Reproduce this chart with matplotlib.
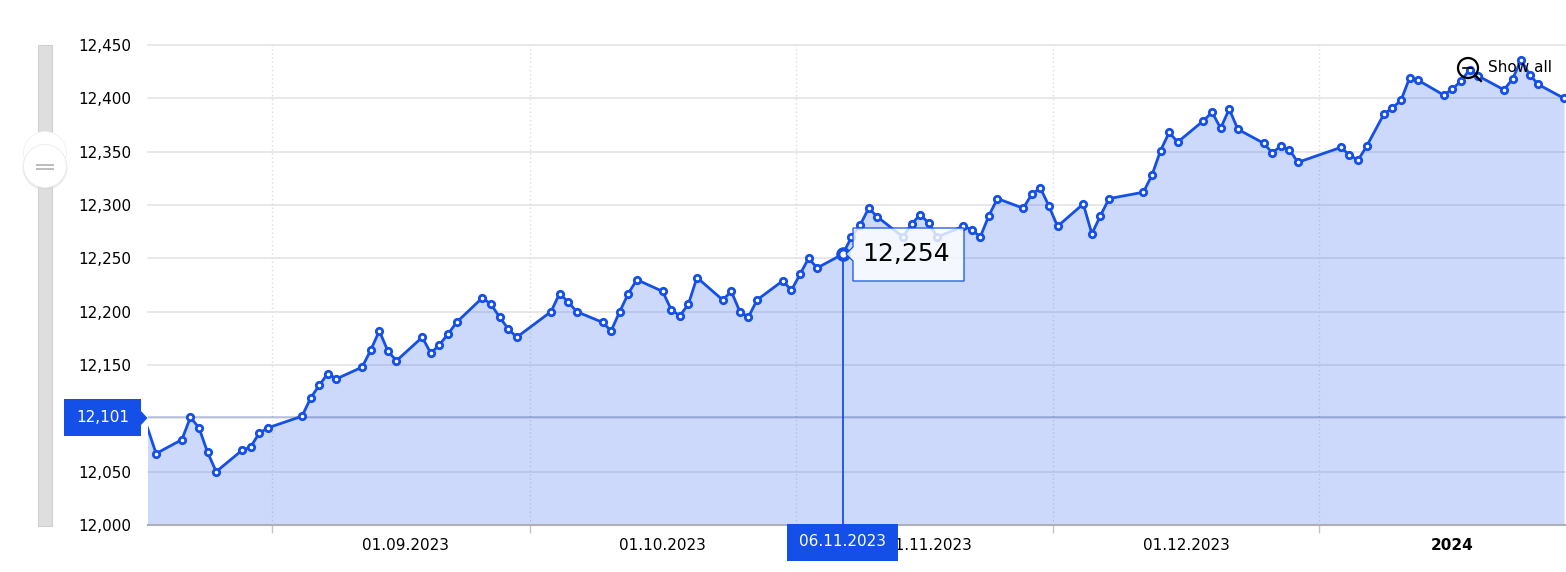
"""Index chart with crosshair, tooltip and range slider."""

from __future__ import annotations

import matplotlib

matplotlib.use("Agg")
import matplotlib.pyplot as plt
import pandas as pd
from matplotlib.patches import Circle, Polygon, Rectangle

BLUE = "#1450e8"

DATES = [
    "2023-08-17", "2023-08-18", "2023-08-21", "2023-08-22", "2023-08-23", "2023-08-24", "2023-08-25",
    "2023-08-28", "2023-08-29", "2023-08-30", "2023-08-31", "2023-09-04", "2023-09-05", "2023-09-06",
    "2023-09-07", "2023-09-08", "2023-09-11", "2023-09-12", "2023-09-13", "2023-09-14", "2023-09-15",
    "2023-09-18", "2023-09-19", "2023-09-20", "2023-09-21", "2023-09-22", "2023-09-25", "2023-09-26",
    "2023-09-27", "2023-09-28", "2023-09-29", "2023-10-03", "2023-10-04", "2023-10-05", "2023-10-06",
    "2023-10-09", "2023-10-10", "2023-10-11", "2023-10-12", "2023-10-13", "2023-10-16", "2023-10-17",
    "2023-10-18", "2023-10-19", "2023-10-20", "2023-10-23", "2023-10-24", "2023-10-25", "2023-10-26",
    "2023-10-27", "2023-10-30", "2023-10-31", "2023-11-01", "2023-11-02", "2023-11-03", "2023-11-06",
    "2023-11-07", "2023-11-08", "2023-11-09", "2023-11-10", "2023-11-13", "2023-11-14", "2023-11-15",
    "2023-11-16", "2023-11-17", "2023-11-20", "2023-11-21", "2023-11-22", "2023-11-23", "2023-11-24",
    "2023-11-27", "2023-11-28", "2023-11-29", "2023-11-30", "2023-12-01", "2023-12-04", "2023-12-05",
    "2023-12-06", "2023-12-07", "2023-12-11", "2023-12-12", "2023-12-13", "2023-12-14", "2023-12-15",
    "2023-12-18", "2023-12-19", "2023-12-20", "2023-12-21", "2023-12-22", "2023-12-25", "2023-12-26",
    "2023-12-27", "2023-12-28", "2023-12-29", "2024-01-03", "2024-01-04", "2024-01-05", "2024-01-06",
    "2024-01-08", "2024-01-09", "2024-01-10", "2024-01-11", "2024-01-12", "2024-01-15", "2024-01-16",
    "2024-01-17", "2024-01-18", "2024-01-19", "2024-01-22", "2024-01-23", "2024-01-24", "2024-01-25",
    "2024-01-26", "2024-01-29",
]
VALUES = [
    12091, 12067, 12080, 12101, 12091, 12068, 12050,
    12070, 12073, 12086, 12091, 12102, 12119, 12131,
    12142, 12137, 12148, 12164, 12182, 12163, 12154,
    12176, 12161, 12169, 12179, 12190, 12213, 12207,
    12195, 12184, 12176, 12200, 12217, 12209, 12200,
    12190, 12182, 12200, 12217, 12230, 12219, 12202,
    12196, 12207, 12232, 12211, 12219, 12200, 12195,
    12211, 12229, 12220, 12235, 12250, 12241, 12254,
    12270, 12281, 12297, 12289, 12270, 12282, 12291,
    12283, 12270, 12280, 12277, 12270, 12290, 12306,
    12297, 12310, 12316, 12299, 12280, 12301, 12273,
    12290, 12306, 12312, 12328, 12351, 12368, 12359,
    12379, 12387, 12372, 12390, 12371, 12358, 12349,
    12355, 12352, 12340, 12354, 12347, 12342, 12355,
    12385, 12391, 12398, 12419, 12417, 12403, 12409,
    12416, 12427, 12421, 12408, 12418, 12436, 12422,
    12413, 12400,
]
Y_TICKS = [12000, 12050, 12100, 12150, 12200, 12250, 12300, 12350, 12400, 12450]
MONTH_STARTS = ["2023-09-01", "2023-10-01", "2023-11-01", "2023-12-01", "2024-01-01"]
MONTH_LABELS = ["01.09.2023", "01.10.2023", "01.11.2023", "01.12.2023", "2024"]
SELECTED_DATE = "2023-11-06"
SELECTED_LABEL = "06.11.2023"
CROSSHAIR_VALUE = 12101

W, H = 1566, 572
LEFT, RIGHT, TOP, BOTTOM = 148, 1566, 45, 525
PX_PER_DAY = 8.585

origin = pd.Timestamp(MONTH_STARTS[0])


def day_number(date: str | pd.Timestamp) -> float:
    return (pd.Timestamp(date) - origin).days


x_points = [day_number(d) + 0.5 for d in DATES]
x_ticks = [day_number(d) for d in MONTH_STARTS]
selected = DATES.index(SELECTED_DATE)

fig = plt.figure(figsize=(W / 100, H / 100), dpi=100, facecolor="white")
ax = fig.add_axes([LEFT / W, 1 - BOTTOM / H, (RIGHT - LEFT) / W, (BOTTOM - TOP) / H])
ax.set_xlim((LEFT - 272) / PX_PER_DAY, (RIGHT - 272) / PX_PER_DAY)
ax.set_ylim(Y_TICKS[0], Y_TICKS[-1])

for side in ("top", "left", "right"):
    ax.spines[side].set_visible(False)
ax.spines["bottom"].set_color("#b0b0b0")
ax.spines["bottom"].set_linewidth(1.5)

# the 12,100 label sits behind the crosshair flag in the original, so it stays blank
y_labels = ["" if v == 12100 else f"{v:,}" for v in Y_TICKS]
ax.set_yticks(Y_TICKS, y_labels, fontsize=11, color="black")
ax.tick_params(axis="y", length=0, pad=12)
ax.set_xticks(x_ticks, [""] * len(x_ticks))
ax.tick_params(axis="x", length=6, width=1, color="#c4c4c4")
ax.set_axisbelow(True)
ax.grid(True, axis="y", color="#e2e2e2", linewidth=1.1)
ax.grid(True, axis="x", color="#dddddd", linewidth=1, linestyle=(0, (1, 2)))
for line in ax.get_ygridlines():
    line.set_clip_on(False)

ax.fill_between(x_points, VALUES, Y_TICKS[0], color=BLUE, alpha=0.21, linewidth=0, zorder=1)
ax.axhline(CROSSHAIR_VALUE, color="#1f3fa0", alpha=0.3, linewidth=1.2, zorder=2)
ax.plot(
    x_points,
    VALUES,
    color=BLUE,
    linewidth=2,
    marker="o",
    markersize=4.6,
    markerfacecolor="white",
    markeredgecolor=BLUE,
    markeredgewidth=2,
    markevery=list(range(1, len(DATES))),
    zorder=3,
)
ax.plot(
    [x_points[selected]] * 2,
    [Y_TICKS[0], VALUES[selected]],
    color=BLUE,
    linewidth=1.3,
    zorder=3,
)
ax.plot(
    x_points[selected],
    VALUES[selected],
    marker="o",
    markersize=7.5,
    markerfacecolor="white",
    markeredgecolor=BLUE,
    markeredgewidth=3,
    zorder=4,
)

for tick, label in zip(x_ticks, MONTH_LABELS):
    ax.text(
        tick + 15.5,
        -0.0425,
        label,
        transform=ax.get_xaxis_transform(),
        ha="center",
        va="center",
        fontsize=11,
        color="black",
        fontweight="bold" if label == "2024" else "normal",
    )

# interface parts on top, in pixel coordinates
ui = fig.add_axes([0, 0, 1, 1], facecolor="none")
ui.set_xlim(0, W)
ui.set_ylim(H, 0)
ui.axis("off")

ui.add_patch(Rectangle((38, 45), 14, 481, facecolor="#dedede", edgecolor="#d0d0d0", linewidth=0.8))
ui.add_patch(Circle((45, 153), 21.5, facecolor="white", edgecolor="#f0f0f0", linewidth=0.6))
ui.add_patch(Circle((45, 167.5), 22.5, facecolor="#d8d8d8", edgecolor="none", alpha=0.5))
ui.add_patch(Circle((45, 166), 21.5, facecolor="white", edgecolor="#ececec", linewidth=0.6))
ui.plot([37, 53], [165, 165], color="#bdbdbd", linewidth=1.4)
ui.plot([37, 53], [169, 169], color="#bdbdbd", linewidth=1.4)

ui.add_patch(Polygon(
    [(64, 399), (141, 399), (141, 411), (147.5, 418), (141, 425), (141, 436), (64, 436)],
    closed=True, facecolor=BLUE, edgecolor="none",
))
ui.text(102.5, 418, f"{CROSSHAIR_VALUE:,}", color="white", fontsize=11, ha="center", va="center")

ui.add_patch(Polygon(
    [(853, 228), (964, 228), (964, 281), (853, 281), (853, 261), (846, 254), (853, 247)],
    closed=True, facecolor=(1, 1, 1, 0.8), edgecolor=BLUE, linewidth=0.9,
))
ui.text(906, 254, f"{VALUES[selected]:,}", color="black", fontsize=18, ha="center", va="center")

ui.add_patch(Rectangle((787, 524), 111, 37, facecolor=BLUE, edgecolor="none"))
ui.text(842.5, 542, SELECTED_LABEL, color="white", fontsize=11, ha="center", va="center")

ui.add_patch(Circle((1468, 68), 10, facecolor="none", edgecolor="black", linewidth=1.6))
ui.plot([1463, 1472], [68, 68], color="black", linewidth=1.2)
ui.plot([1475, 1481], [75, 81], color="black", linewidth=1.6)
ui.text(1488, 68, "Show all", color="black", fontsize=11, ha="left", va="center")

fig.savefig("out.png", dpi=100)
plt.close(fig)
